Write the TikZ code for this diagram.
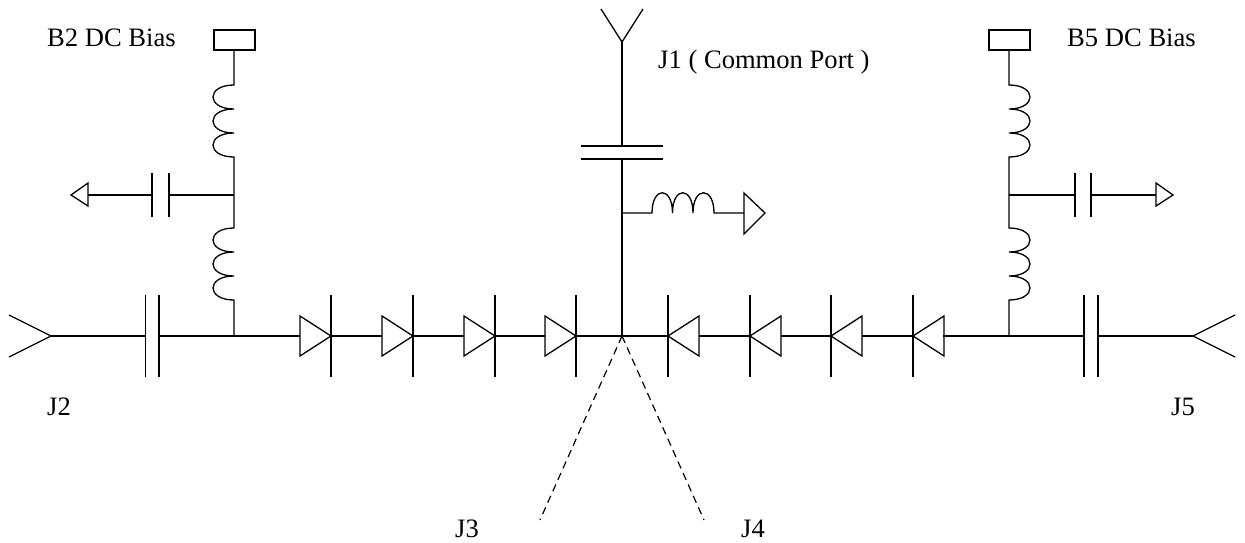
\documentclass[tikz,border=0pt]{standalone}
\usepackage{fontspec}
\setmainfont{Liberation Serif}
\begin{document}
\begin{tikzpicture}[x=1pt,y=-1pt,line join=miter,
  wire/.style={draw=black,line width=1.3pt},
  lbl/.style={inner sep=0pt,anchor=base west,font=\fontsize{26.6}{30}\selectfont},
  dashwire/.style={wire,line width=1.2pt,dash pattern=on 7.5pt off 5pt}]
\useasboundingbox (0,0) rectangle (1245,543);
\fill[white] (0,0) rectangle (1245,543);
% junctions
\coordinate (jL) at (234,336);
\coordinate (jC) at (622,336);
\coordinate (jR) at (1009,336);
\coordinate (tL) at (234,195);
\coordinate (tR) at (1009,195);
\coordinate (tC) at (622,213);
% ports
\coordinate (pJ2) at (51,336);
\coordinate (pJ5) at (1193,336);
\coordinate (pJ1) at (622,42);
\coordinate (pJ3) at (540,520);
\coordinate (pJ4) at (704,520);
% antennas
\draw[wire] (9,315) -- (pJ2) -- (9,357);
\draw[wire] (1235,315) -- (pJ5) -- (1235,357);
\draw[wire] (601,9) -- (pJ1) -- (643,9);
% main line with series capacitors
\draw[wire] (pJ2) -- (145.5,336);
\draw[wire] (145.5,295) -- (145.5,377);
\draw[wire] (159,295) -- (159,377);
\draw[wire] (159,336) -- (jL) -- (300,336);
\draw[wire] (pJ5) -- (1098,336);
\draw[wire] (1084,295) -- (1084,377);
\draw[wire] (1098,295) -- (1098,377);
\draw[wire] (1084,336) -- (jR) -- (943,336);
% left diodes
\foreach \n/\b in {a/300,b/382,c/464,d/545}{
  \coordinate (di\n) at (\b,336);
  \coordinate (dt\n) at (\b+31,336);
  \draw[wire] (\b,316) -- (dt\n) -- (\b,356) -- cycle;
  \draw[wire] (\b+31,295) -- (\b+31,377);
}
\draw[wire] (dta) -- (dib);
\draw[wire] (dtb) -- (dic);
\draw[wire] (dtc) -- (did);
\draw[wire] (dtd) -- (jC);
% right diodes
\foreach \n/\b in {e/668,f/750,g/831,h/913}{
  \coordinate (dk\n) at (\b,336);
  \coordinate (db\n) at (\b+31,336);
  \draw[wire] (\b+31,316) -- (dk\n) -- (\b+31,356) -- cycle;
  \draw[wire] (\b,295) -- (\b,377);
}
\draw[wire] (jC) -- (dke);
\draw[wire] (dbe) -- (dkf);
\draw[wire] (dbf) -- (dkg);
\draw[wire] (dbg) -- (dkh);
% centre stem
\draw[wire] (pJ1) -- (622,146);
\draw[wire] (581,146) -- (663,146);
\draw[wire] (581,159) -- (663,159);
\draw[wire] (622,159) -- (tC) -- (jC);
\draw[wire] (tC) -- (652,213)
  .. controls (652,186) and (672.5,186) .. (672.5,213)
  .. controls (672.5,186) and (693,186) .. (693,213)
  .. controls (693,186) and (714,186) .. (714,213) -- (744,213);
\draw[wire] (744,193) -- (765,213) -- (744,234) -- cycle;
% left bias
\node[wire,rectangle,inner sep=0pt,minimum width=41pt,minimum height=20pt] (bL) at (234.5,40) {};
\draw[wire] (jL) -- (234,300)
  .. controls (206,300) and (206,276) .. (234,276)
  .. controls (206,276) and (206,252) .. (234,252)
  .. controls (206,252) and (206,228) .. (234,228) -- (tL) -- (234,157)
  .. controls (206,157) and (206,133) .. (234,133)
  .. controls (206,133) and (206,109) .. (234,109)
  .. controls (206,109) and (206,85) .. (234,85) -- (234,50);
\draw[wire] (tL) -- (169,195);
\draw[wire] (169,173) -- (169,217);
\draw[wire] (152,173) -- (152,217);
\draw[wire] (152,195) -- (88,195);
\draw[wire] (88,183) -- (71,195) -- (88,206) -- cycle;
% right bias
\node[wire,rectangle,inner sep=0pt,minimum width=41pt,minimum height=20pt] (bR) at (1009.5,40) {};
\draw[wire] (jR) -- (1009,300)
  .. controls (1037,300) and (1037,276) .. (1009,276)
  .. controls (1037,276) and (1037,252) .. (1009,252)
  .. controls (1037,252) and (1037,228) .. (1009,228) -- (tR) -- (1009,157)
  .. controls (1037,157) and (1037,133) .. (1009,133)
  .. controls (1037,133) and (1037,109) .. (1009,109)
  .. controls (1037,109) and (1037,85) .. (1009,85) -- (1009,50);
\draw[wire] (tR) -- (1075,195);
\draw[wire] (1075,173) -- (1075,217);
\draw[wire] (1091,173) -- (1091,217);
\draw[wire] (1091,195) -- (1156,195);
\draw[wire] (1156,183) -- (1173,195) -- (1156,206) -- cycle;
% dashed branches
\draw[dashwire] (jC) -- (pJ3);
\draw[dashwire] (jC) -- (pJ4);
% labels
\node[lbl] (lB2) at (47,47) {B2 DC Bias};
\node[lbl] (lB5) at (1067,47) {B5 DC Bias};
\node[lbl] (lJ1) at (658,69) {J1 ( Common Port )};
\node[lbl] (lJ2) at (47,415) {J2};
\node[lbl] (lJ5) at (1171,415) {J5};
\node[lbl] (lJ3) at (455,537) {J3};
\node[lbl] (lJ4) at (741,537) {J4};
\end{tikzpicture}
\end{document}
